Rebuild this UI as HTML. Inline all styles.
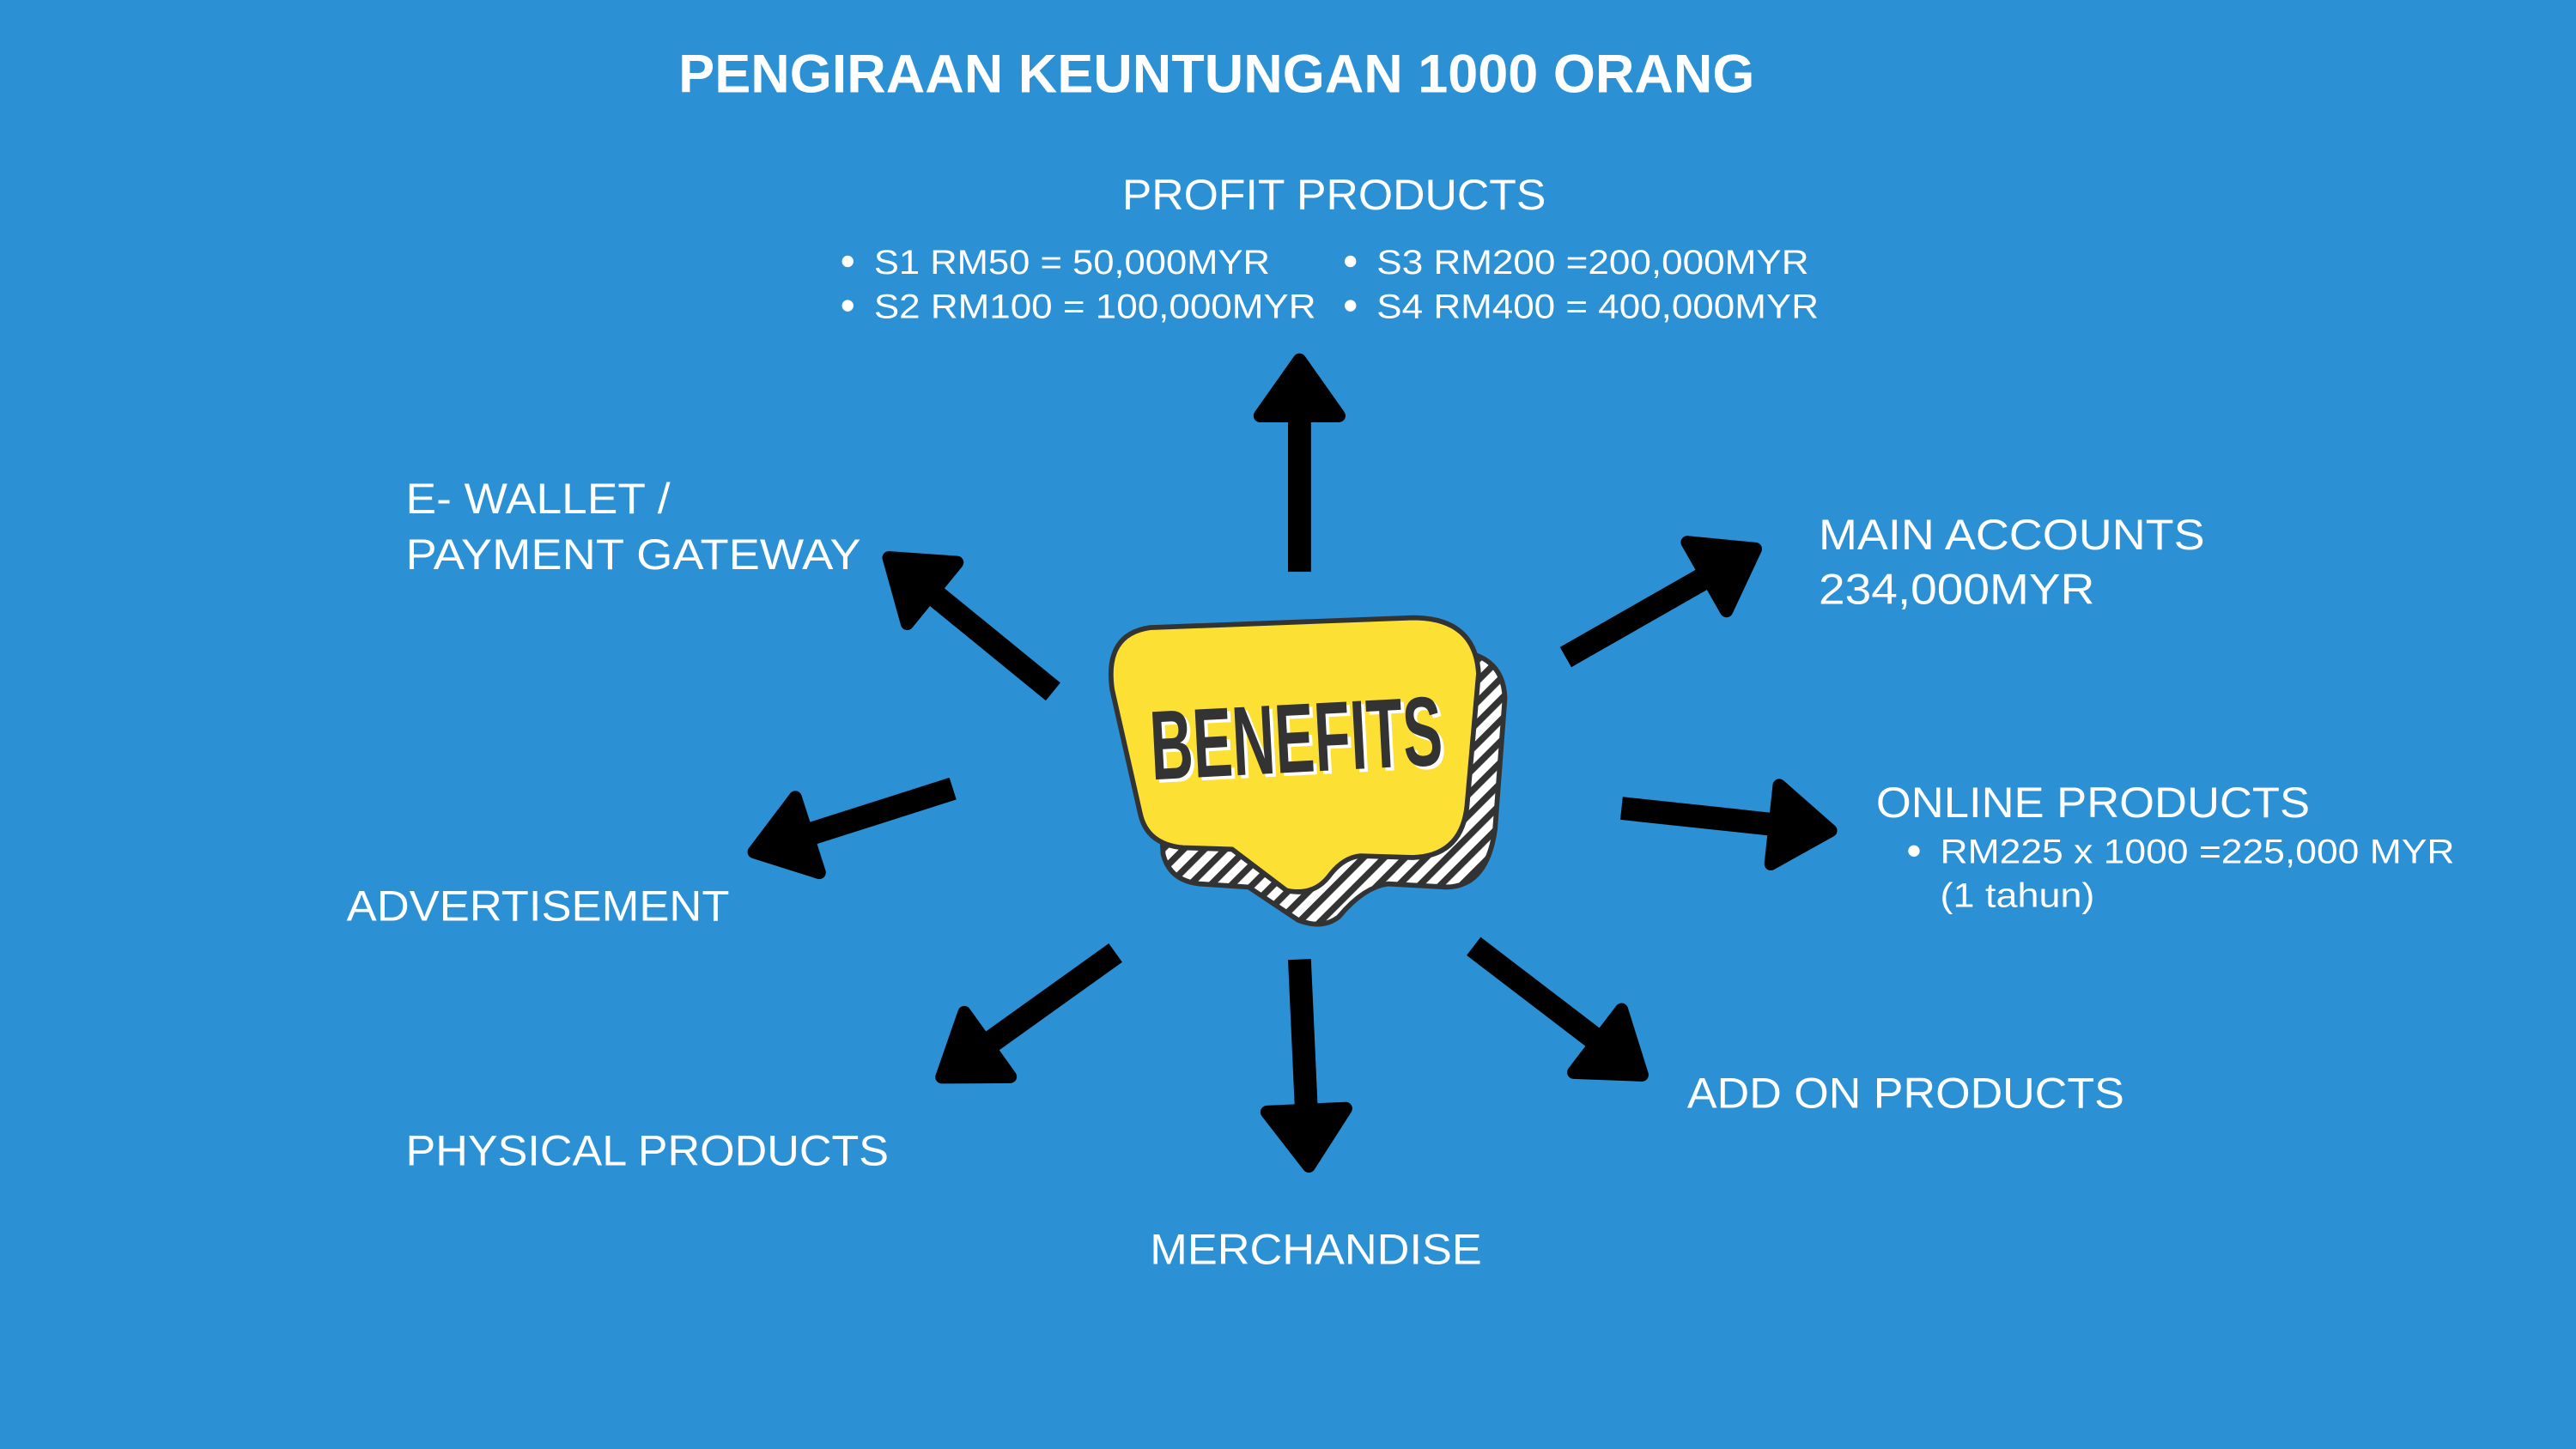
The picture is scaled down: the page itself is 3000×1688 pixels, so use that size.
<!DOCTYPE html>
<html><head><meta charset="utf-8"><style>
html,body{margin:0;padding:0;background:#2b90d4;}
svg{display:block;}
text{font-family:"Liberation Sans",sans-serif;fill:#fff;}
</style></head><body>
<svg width="3000" height="1688" viewBox="0 0 1568 882" xmlns="http://www.w3.org/2000/svg">
<defs>
<pattern id="st" width="9" height="9" patternUnits="userSpaceOnUse" patternTransform="rotate(45)">
<rect width="9" height="9" fill="#fff"/><rect width="4" height="9" fill="#333"/>
</pattern>
<g id="ar">
<rect x="0" y="-7" width="100" height="14" fill="#000"/>
</g>
</defs>
<rect width="1568" height="882" fill="#2b90d4"/>

<text x="413" y="56" font-size="33" font-weight="bold" textLength="655" lengthAdjust="spacingAndGlyphs">PENGIRAAN KEUNTUNGAN 1000 ORANG</text>

<text x="683" y="127.5" font-size="26" textLength="258" lengthAdjust="spacingAndGlyphs">PROFIT PRODUCTS</text>
<circle cx="516" cy="159" r="3.5" fill="#fff"/><circle cx="516" cy="186" r="3.5" fill="#fff"/>
<circle cx="822" cy="159" r="3.5" fill="#fff"/><circle cx="822" cy="186" r="3.5" fill="#fff"/>
<text x="532" y="166.5" font-size="21" textLength="241" lengthAdjust="spacingAndGlyphs">S1 RM50 = 50,000MYR</text>
<text x="532" y="193.5" font-size="21" textLength="269" lengthAdjust="spacingAndGlyphs">S2 RM100 = 100,000MYR</text>
<text x="838" y="166.5" font-size="21" textLength="263" lengthAdjust="spacingAndGlyphs">S3 RM200 =200,000MYR</text>
<text x="838" y="193.5" font-size="21" textLength="269" lengthAdjust="spacingAndGlyphs">S4 RM400 = 400,000MYR</text>

<text x="247" y="312.5" font-size="26" textLength="161" lengthAdjust="spacingAndGlyphs">E- WALLET /</text>
<text x="247" y="346.5" font-size="26" textLength="277" lengthAdjust="spacingAndGlyphs">PAYMENT GATEWAY</text>
<text x="1107" y="334.5" font-size="26" textLength="235" lengthAdjust="spacingAndGlyphs">MAIN ACCOUNTS</text>
<text x="1107" y="367.5" font-size="26" textLength="168" lengthAdjust="spacingAndGlyphs">234,000MYR</text>
<text x="1142" y="497.5" font-size="26" textLength="264" lengthAdjust="spacingAndGlyphs">ONLINE PRODUCTS</text>
<circle cx="1165" cy="518" r="3.5" fill="#fff"/>
<text x="1181" y="525.5" font-size="21" textLength="313" lengthAdjust="spacingAndGlyphs">RM225 x 1000 =225,000 MYR</text>
<text x="1181" y="552" font-size="21" textLength="94" lengthAdjust="spacingAndGlyphs">(1 tahun)</text>
<text x="211" y="560.5" font-size="26" textLength="233" lengthAdjust="spacingAndGlyphs">ADVERTISEMENT</text>
<text x="247" y="709.5" font-size="26" textLength="294" lengthAdjust="spacingAndGlyphs">PHYSICAL PRODUCTS</text>
<text x="700" y="769.5" font-size="26" textLength="202" lengthAdjust="spacingAndGlyphs">MERCHANDISE</text>
<text x="1027" y="674.5" font-size="26" textLength="266" lengthAdjust="spacingAndGlyphs">ADD ON PRODUCTS</text>

<!-- arrows -->
<g fill="#000" stroke="#000" stroke-linejoin="round">
<g transform="translate(791,348) rotate(-90)"><rect x="0" y="-7" width="96" height="14" stroke="none"/><polygon points="95,-24 129,0 95,24" stroke-width="8"/></g>
<g transform="translate(641,421) rotate(-140.8)"><rect x="0" y="-7" width="96" height="14" stroke="none"/><polygon points="95,-24 129,0 95,24" stroke-width="8"/></g>
<g transform="translate(953,400) rotate(-29.7)"><rect x="0" y="-7" width="100" height="14" stroke="none"/><polygon points="99,-24 133,0 99,24" stroke-width="8"/></g>
<g transform="translate(987,492) rotate(6.1)"><rect x="0" y="-7" width="95" height="14" stroke="none"/><polygon points="94,-24 128,0 94,24" stroke-width="8"/></g>
<g transform="translate(580,480) rotate(162.3)"><rect x="0" y="-7" width="94" height="14" stroke="none"/><polygon points="93,-24 127,0 93,24" stroke-width="8"/></g>
<g transform="translate(679,580) rotate(144.4)"><rect x="0" y="-7" width="97" height="14" stroke="none"/><polygon points="96,-24 130,0 96,24" stroke-width="8"/></g>
<g transform="translate(791,584) rotate(87.4)"><rect x="0" y="-7" width="93" height="14" stroke="none"/><polygon points="92,-24 126,0 92,24" stroke-width="8"/></g>
<g transform="translate(897,576) rotate(37.4)"><rect x="0" y="-7" width="96" height="14" stroke="none"/><polygon points="95,-24 129,0 95,24" stroke-width="8"/></g>
</g>

<!-- badge shadow -->
<path d="M700,400 Q700,388 715,388 L880,396 Q915,396 916,425 L910,505 Q905,540 880,540 L845,538 Q830,540 815,558 Q805,566 790,560 L760,540 L730,538 Q712,536 708,520 Z" fill="url(#st)" stroke="#333" stroke-width="3"/>
<!-- badge main -->
<path d="M700,382 L860,376 Q898,376 900,410 L893,490 Q890,521 860,522 L828,521 Q818,522 810,532 Q800,546 783,542 L750,517 L720,516 Q698,514 694,495 L677,420 Q672,386 700,382 Z" fill="#fde034" stroke="#333" stroke-width="3" stroke-linejoin="round"/>
<g transform="translate(790,470) rotate(-3)">
<text x="2" y="2" text-anchor="middle" font-size="60" font-weight="bold" style="font-family:'Liberation Sans Narrow','Liberation Sans',sans-serif;fill:#fff" textLength="178" lengthAdjust="spacingAndGlyphs">BENEFITS</text>
<text x="0" y="0" text-anchor="middle" font-size="60" font-weight="bold" style="font-family:'Liberation Sans Narrow','Liberation Sans',sans-serif;fill:#333" textLength="178" lengthAdjust="spacingAndGlyphs">BENEFITS</text>
</g>
</svg>
</body></html>
